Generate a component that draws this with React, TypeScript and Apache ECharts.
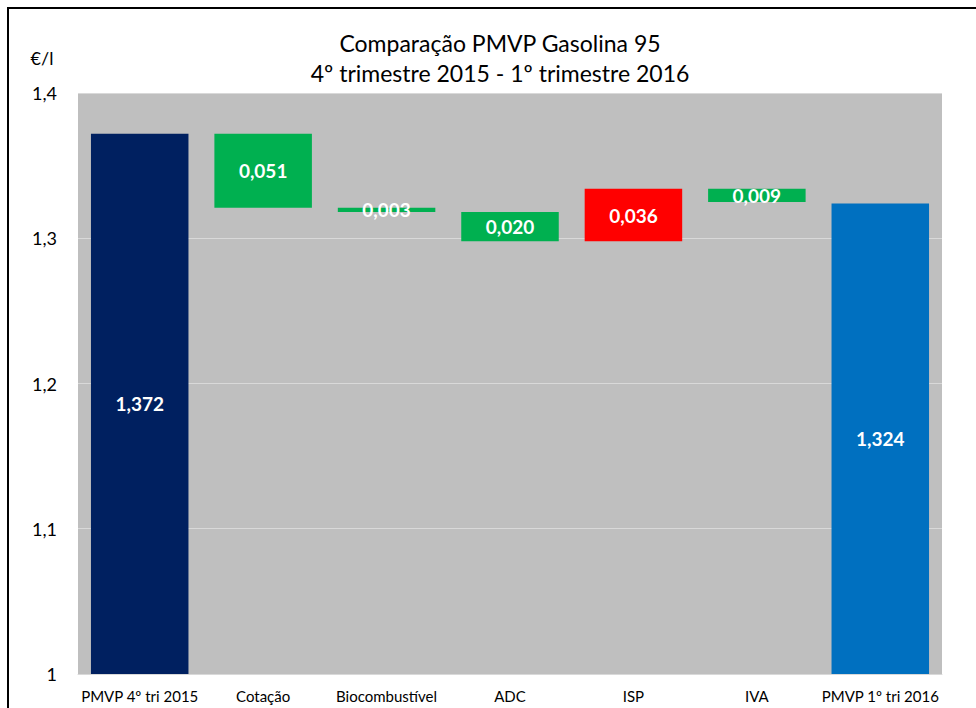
import React, { useEffect, useRef } from "react";
import * as echarts from "echarts";

const categories = ["PMVP 4º tri 2015", "Cotação", "Biocombustível", "ADC", "ISP", "IVA", "PMVP 1º tri 2016"];
// totals for first and last, changes in between
const values = [1.372, -0.051, -0.003, -0.02, 0.036, -0.009, 1.324];
const isTotal = [true, false, false, false, false, false, true];
const colors = ["#002060", "#00b050", "#00b050", "#00b050", "#ff0000", "#00b050", "#0070c0"];
const yTicks = [1, 1.1, 1.2, 1.3, 1.4];

const FONT = "Lato, 'Open Sans', sans-serif";

export default function App() {
  const ref = useRef<HTMLDivElement>(null);
  useEffect(() => {
    if (!ref.current) return;
    const chart = echarts.init(ref.current, undefined, { renderer: "svg" });
    const base: number[] = [];
    const heights: number[] = [];
    let cur = 0;
    values.forEach((v, i) => {
      if (isTotal[i]) {
        base.push(0);
        heights.push(v);
        cur = v;
      } else {
        const next = cur + v;
        base.push(Math.min(cur, next));
        heights.push(Math.abs(v));
        cur = next;
      }
    });
    const labels = values.map((v) => Math.abs(v).toFixed(3).replace(".", ","));
    chart.setOption({
      animation: false,
      textStyle: { fontFamily: FONT },
      title: {
        text: "Comparação PMVP Gasolina 95\n4º trimestre 2015 - 1º trimestre 2016",
        left: 495,
        top: 23,
        textAlign: "center",
        textStyle: { fontSize: 23, fontWeight: "normal", color: "#000", lineHeight: 30, fontFamily: FONT },
      },
      graphic: [
        {
          type: "rect",
          shape: { x: 8, y: 8, width: 1200, height: 1200 },
          style: { fill: "none", stroke: "#000", lineWidth: 2 },
          silent: true,
        },
        {
          type: "text",
          x: 42,
          y: 58,
          style: { text: "€/l", fontSize: 18, fill: "#000", align: "center", verticalAlign: "middle", fontFamily: FONT },
        },
      ],
      grid: {
        left: 78,
        right: 34,
        top: 93,
        bottom: 34,
        show: true,
        backgroundColor: "#bfbfbf",
        borderWidth: 0,
      },
      xAxis: {
        type: "category",
        data: categories,
        axisLine: { show: true, lineStyle: { color: "#d9d9d9", width: 1 } },
        axisTick: { show: false },
        axisLabel: { fontSize: 15, color: "#000", margin: 14, interval: 0, fontFamily: FONT },
      },
      yAxis: {
        type: "value",
        min: yTicks[0],
        max: yTicks[yTicks.length - 1],
        interval: 0.1,
        axisLine: { show: false },
        axisTick: { show: false },
        splitLine: { show: true, lineStyle: { color: "#d9d9d9", width: 1 } },
        axisLabel: {
          fontSize: 18,
          color: "#000",
          margin: 21,
          fontFamily: FONT,
          formatter: (v: number) => String(Number(v.toFixed(1))).replace(".", ","),
        },
      },
      series: [
        {
          type: "bar",
          stack: "w",
          barWidth: "79%",
          itemStyle: { color: "transparent" },
          emphasis: { disabled: true },
          data: base,
          silent: true,
        },
        {
          type: "bar",
          stack: "w",
          barWidth: "79%",
          emphasis: { disabled: true },
          data: heights.map((h, i) => ({
            value: h,
            itemStyle: { color: colors[i] },
          })),
          label: {
            show: true,
            position: "inside",
            color: "#fff",
            fontSize: 19,
            fontWeight: "bold",
            fontFamily: FONT,
            formatter: (p: any) => labels[p.dataIndex],
          },
        },
      ],
    });
    return () => chart.dispose();
  }, []);
  return <div ref={ref} style={{ position: "fixed", left: 0, top: 0, width: 976, height: 708, background: "#fff" }} />;
}
